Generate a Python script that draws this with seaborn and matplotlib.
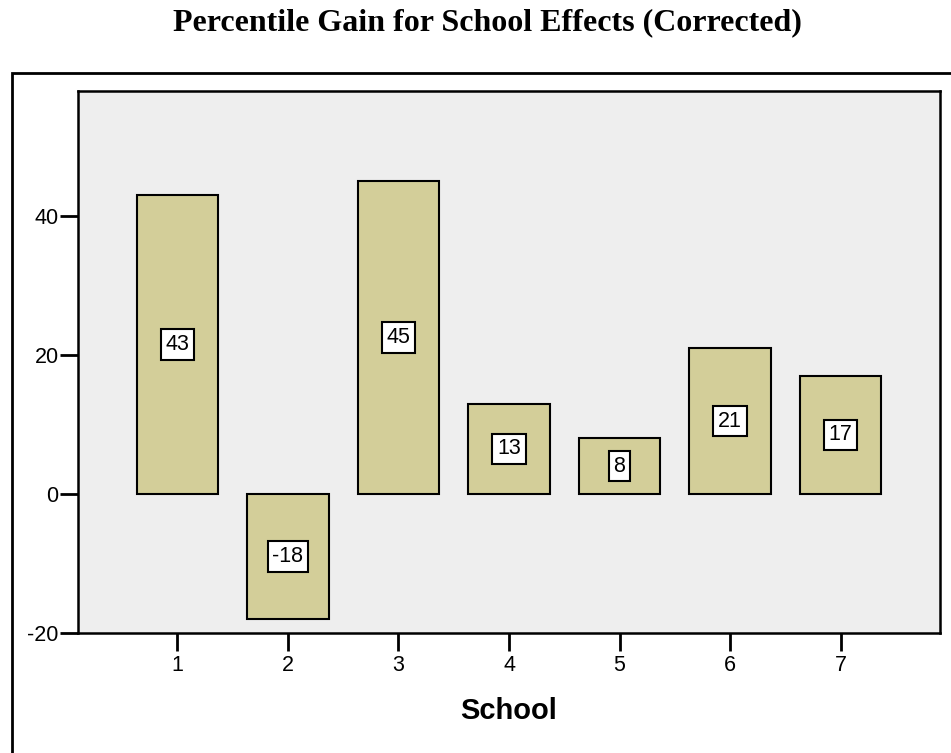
import matplotlib
matplotlib.use("Agg")
import matplotlib.pyplot as plt
from matplotlib.patches import Rectangle
import seaborn as sns
import pandas as pd

schools = ["1", "2", "3", "4", "5", "6", "7"]
gains = [43, -18, 45, 13, 8, 21, 17]
yticks = [-20, 0, 20, 40]

sns.set_theme(style="white")
plt.rcParams["font.family"] = ["Liberation Sans", "DejaVu Sans"]
plt.rcParams["text.color"] = "black"
plt.rcParams["axes.labelcolor"] = "black"
plt.rcParams["xtick.color"] = "black"
plt.rcParams["ytick.color"] = "black"

df = pd.DataFrame({"School": schools, "Gain": gains})

fig = plt.figure(figsize=(9.51, 7.53), dpi=100)
ax = fig.add_axes([78 / 951, 120 / 753, 862 / 951, 542 / 753])
ax.set_facecolor("#EEEEEE")

sns.barplot(data=df, x="School", y="Gain", order=schools, color="#D3CE99",
            width=0.74, edgecolor="black", linewidth=1.5, saturation=1, ax=ax)

for i, g in enumerate(gains):
    ax.text(i, g / 2, f"{g}", ha="center", va="center", fontsize=15.5,
            color="black",
            bbox=dict(boxstyle="square,pad=0.22", fc="white", ec="black", lw=1.5))

ax.set_xlim(-0.9, 6.9)
ax.set_ylim(-20, 58)
ax.set_yticks(yticks)
ax.set_yticklabels([str(t) for t in yticks])
ax.tick_params(axis="both", direction="out", length=13, width=2, colors="black",
               labelsize=15.5, left=True, bottom=True, pad=1)
ax.tick_params(axis="x", pad=3)
for s in ax.spines.values():
    s.set_color("black")
    s.set_linewidth(1.8)

ax.set_ylabel("")
ax.set_xlabel("School", fontsize=21, fontweight="bold", labelpad=15, color="black")

fig.text(487 / 951, 1 - 23 / 753, "Percentile Gain for School Effects (Corrected)",
         ha="center", va="center", fontsize=23, fontweight="bold", color="black",
         family=["Liberation Serif", "DejaVu Serif"])

# outer chart frame
fig.add_artist(Rectangle((12 / 951, -0.1), 1.1, 1 - 73 / 753 + 0.1,
                         transform=fig.transFigure, fill=False,
                         edgecolor="black", linewidth=2))

fig.savefig("out.png", dpi=100)
